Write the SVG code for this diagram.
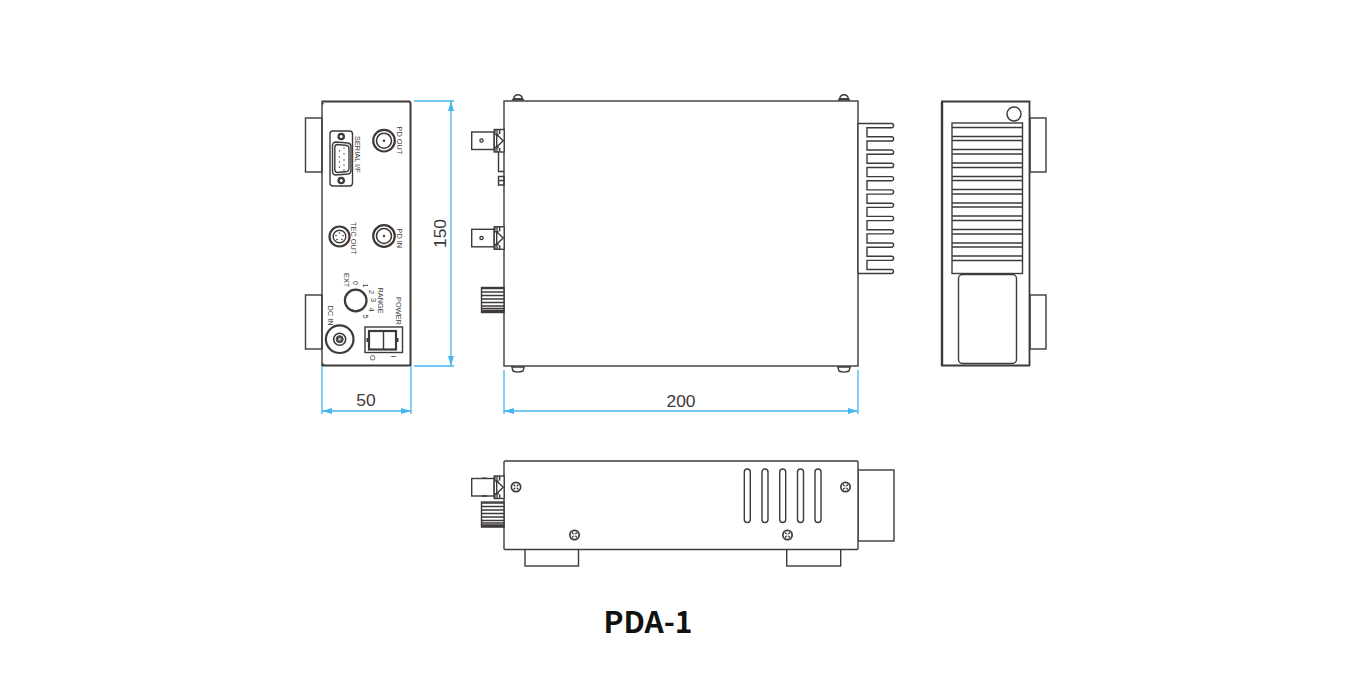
<svg xmlns="http://www.w3.org/2000/svg" width="1354" height="676" viewBox="0 0 1354 676">
<style>
.l{fill:none;stroke:#3e3a39;stroke-width:1.4}
.w{fill:#fff;stroke:#3e3a39;stroke-width:1.4}
.t{fill:#fff;stroke:#3e3a39;stroke-width:2.2}
.d{fill:#3e3a39}
.dim{fill:none;stroke:#45b6ef;stroke-width:1.3}
.s{font-family:"Liberation Sans",Arial,sans-serif;font-size:7.4px;fill:#3e3a39}
.n{font-family:"Liberation Sans",Arial,sans-serif;font-size:17.4px;fill:#3e3a39}
.h{font-family:"Noto Sans CJK JP","Noto Sans",sans-serif;font-size:30px;font-weight:700;fill:#111}
</style>
<defs>
<marker id="a" viewBox="0 0 10 6" refX="10" refY="3" markerWidth="10" markerHeight="6" markerUnits="userSpaceOnUse" orient="auto-start-reverse"><path d="M0 0L10 3L0 6Z" fill="#45b6ef"/></marker>
<g id="bnc"><circle r="10.800" class="t"/><circle r="7.500" fill="none" stroke="#3e3a39" stroke-width="1.600"/><circle r="1.200" class="d"/></g>
<g id="sbnc"><rect x="0" y="0" width="22.500" height="17.500" class="w"/><rect x="22.500" y="-2.500" width="10" height="22.500" class="w"/><path d="M25 2.500L31.500 8.750L25 15Z" class="w"/><path d="M22.500 2.500H27M22.500 15.200H27M28 -2.500V2M28 16V20" class="l"/><rect x="22.500" y="-2.500" width="4" height="4" class="d" opacity=".65"/><rect x="22.500" y="15.500" width="4" height="4.500" class="d" opacity=".65"/></g>
<g id="knurl"><rect width="22.500" height="25" class="w"/><path d="M0 1H22.500M0 4.500H22.500M0 8H22.500M0 11.500H22.500M0 15H22.500M0 18.500H22.500M0 21H22.500M0 23H22.500M0 24.500H22.500" class="l"/></g>
<g id="screw"><circle r="5.500" fill="#3e3a39"/><circle r="3.800" fill="#fff"/><path d="M-2.500 -2.500L2.500 2.500M-2.500 2.500L2.500 -2.500" stroke="#3e3a39" stroke-width="1.200"/><circle r="1.500" fill="#ddd"/></g>
<g id="dome"><path d="M-4.500 -1.500C-4 -4.500 -2 -5.800 0 -5.800C2 -5.800 4 -4.500 4.500 -1.500Z" class="w"/><path d="M-6.500 0C-6.500 -1.200 -5 -2 -4 -2.200H4C5 -2 6.500 -1.200 6.500 0Z" class="d"/></g>
<path id="domeb" d="M-6.200 0H6.200L5 4Q0 6.200 -5 4Z" class="w"/>
<path id="slot" d="M0 3A3 3 0 0 1 6 3V50.500A3 3 0 0 1 0 50.500Z" class="w" stroke-width="1.500"/>
</defs>
<rect width="1354" height="676" fill="#fff"/>

<g id="front-view">
<rect x="305.500" y="118" width="16.500" height="54" class="w"/>
<rect x="305.500" y="295" width="16.500" height="54" class="w"/>
<path d="M322 366V101.500" class="l"/>
<path d="M321.500 101.500H409.500L410.500 103V366M321.500 365.500H410.500" fill="none" stroke="#3e3a39" stroke-width="2"/>
<path d="M322 103L324.500 103.500L322 105ZM322 363L324.500 364L322 366Z" class="d"/>
<rect x="330" y="131" width="22.500" height="55" rx="3" class="l"/>
<circle cx="341.200" cy="136.500" r="3.800" fill="#3e3a39"/><circle cx="341.200" cy="136.500" r="1.500" fill="#fff"/>
<circle cx="341.200" cy="180.500" r="3.800" fill="#3e3a39"/><circle cx="341.200" cy="180.500" r="1.500" fill="#fff"/>
<path d="M332.500 146Q332.500 142 336 142L348 143Q351 143.500 351 146.500V170.500Q351 173.500 348 174L336 175Q332.500 175 332.500 171Z" class="w" stroke-width="1.800"/>
<path d="M334.800 147.500Q334.800 144.500 337.500 144.500L347 145.500Q349 146 349 148V169Q349 171 347 171.500L337.500 172.500Q334.800 172.500 334.800 169.500Z" class="l" stroke-width="1"/>
<g class="d"><circle cx="344" cy="148" r=".7"/><circle cx="344" cy="154" r=".7"/><circle cx="344" cy="160" r=".7"/><circle cx="344" cy="165" r=".7"/><circle cx="344" cy="170" r=".7"/><circle cx="339.500" cy="151" r=".7"/><circle cx="339.500" cy="157" r=".7"/><circle cx="339.500" cy="162" r=".7"/><circle cx="339.500" cy="167" r=".7"/></g>
<use href="#bnc" x="384" y="140.700"/>
<use href="#bnc" x="384" y="236"/>
<circle cx="339.500" cy="236.500" r="10" class="t"/>
<circle cx="339.500" cy="236.500" r="6.300" class="l" stroke-width="1"/>
<g class="d"><circle cx="339.500" cy="233" r=".8"/><circle cx="343" cy="235.500" r=".8"/><circle cx="342" cy="239.500" r=".8"/><circle cx="337" cy="239.500" r=".8"/><circle cx="336" cy="235.500" r=".8"/></g>
<circle cx="355.700" cy="300.500" r="10.800" fill="#fff" stroke="#3e3a39" stroke-width="2.200"/>
<circle cx="339.700" cy="339.200" r="13.800" class="t"/>
<circle cx="339.700" cy="339.200" r="6" fill="#fff" stroke="#3e3a39" stroke-width="1.600"/>
<circle cx="339.700" cy="339.200" r="3.500" fill="#555" stroke="#3e3a39"/>
<circle cx="339.700" cy="339.200" r="1.200" fill="#ccc"/>
<rect x="365" y="327" width="37.500" height="25.500" class="w" stroke-width="1.500"/>
<rect x="369" y="331" width="27" height="18.500" class="t"/>
<path d="M383.500 331V349.500" class="l"/>
<rect x="366.500" y="338" width="2.500" height="4" class="d"/><rect x="396" y="338" width="2.500" height="4" class="d"/>
<text class="s" transform="translate(397 126.500) rotate(90)">PD OUT</text>
<text class="s" transform="translate(397 228.500) rotate(90)">PD IN</text>
<text class="s" transform="translate(355 136) rotate(90)">SERIAL I/F</text>
<text class="s" transform="translate(351 222) rotate(90)">TEC OUT</text>
<text class="s" transform="translate(344 273) rotate(90)">EXT</text>
<text class="s" transform="translate(353 281) rotate(90)">0</text>
<text class="s" transform="translate(362.500 283.500) rotate(90)">1</text>
<text class="s" transform="translate(368.500 290) rotate(90)">2</text>
<text class="s" transform="translate(371 298) rotate(90)">3</text>
<text class="s" transform="translate(369 307.500) rotate(90)">4</text>
<text class="s" transform="translate(362.500 314.500) rotate(90)">5</text>
<text class="s" transform="translate(378 287.500) rotate(90)">RANGE</text>
<text class="s" transform="translate(396 297) rotate(90)">POWER</text>
<text class="s" transform="translate(327.500 305.500) rotate(90)">DC IN</text>
<text class="s" transform="translate(370 355) rotate(90)">O</text>
<text class="s" transform="translate(391 355.500) rotate(90)">I</text>
</g>

<g id="top-view">
<rect x="504" y="101" width="354" height="265" class="w"/>
<use href="#dome" x="518" y="100.500"/>
<use href="#dome" x="844" y="100.500"/>
<use href="#domeb" x="518" y="367"/>
<use href="#domeb" x="844" y="367"/>
<g id="top-left-parts">
<use href="#sbnc" x="471.700" y="132"/>
<circle cx="481.500" cy="140.500" r="1.600" class="l"/>
<use href="#sbnc" x="471.700" y="229.300"/>
<circle cx="481.500" cy="238" r="1.600" class="l"/>
<path d="M498.500 152V171.500H504M498.500 176.500H504V185H498.500ZM498.500 180.500H504" class="l"/>
<use href="#knurl" x="481.500" y="287.500"/>
</g>
<path d="M858 123.500H891.500A2 2 0 0 1 891.500 127.700H867V136.800H891.500A2 2 0 0 1 891.500 141H867V150H891.500A2 2 0 0 1 891.500 154.300H867V163.300H891.500A2 2 0 0 1 891.500 167.500H867V176.600H891.500A2 2 0 0 1 891.500 180.800H867V189.900H891.500A2 2 0 0 1 891.500 194.100H867V203.200H891.500A2 2 0 0 1 891.500 207.400H867V216.400H891.500A2 2 0 0 1 891.500 220.600H867V229.700H891.500A2 2 0 0 1 891.500 233.900H867V243H891.500A2 2 0 0 1 891.500 247.200H867V256.200H891.500A2 2 0 0 1 891.500 260.400H867V269.500H891.500A2 2 0 0 1 891.500 273.500H858" class="w"/>
<path d="M858 123.500V273.500" class="l"/>
</g>

<g id="rear-view">
<rect x="1030" y="118" width="16" height="54" class="w"/>
<rect x="1030" y="295" width="16" height="54" class="w"/>
<path d="M942 366V102" fill="none" stroke="#3e3a39" stroke-width="2.400"/>
<path d="M941 101.500H1029.500V366M941 365.500H1030" fill="none" stroke="#3e3a39" stroke-width="1.800"/>
<circle cx="1014" cy="114" r="7" fill="#fff" stroke="#3e3a39" stroke-width="1.500"/>
<rect x="952" y="123" width="70.500" height="150.500" class="w"/>
<path d="M952 127.500H1022.500M952 136.500H1022.500M952 140.500H1022.500M952 149.500H1022.500M952 154H1022.500M952 163H1022.500M952 167.500H1022.500M952 176.500H1022.500M952 180.500H1022.500M952 189.500H1022.500M952 194H1022.500M952 203H1022.500M952 207H1022.500M952 216H1022.500M952 220.500H1022.500M952 229.500H1022.500M952 234H1022.500M952 243H1022.500M952 247H1022.500M952 256H1022.500M952 260.500H1022.500" class="l"/>
<rect x="958.500" y="274.500" width="58" height="89" rx="4" class="w"/>
</g>

<g id="side-view">
<rect x="858" y="470" width="36" height="71" class="w"/>
<rect x="525" y="549" width="53.500" height="17" class="w"/>
<rect x="786.700" y="549" width="54" height="17" class="w"/>
<rect x="504" y="461" width="354" height="88.500" rx="1" class="w"/>
<use href="#slot" x="744.300" y="469"/>
<use href="#slot" x="762" y="469"/>
<use href="#slot" x="779.700" y="469"/>
<use href="#slot" x="797.500" y="469"/>
<use href="#slot" x="815" y="469"/>
<use href="#screw" x="516" y="487"/>
<use href="#screw" x="574.500" y="535"/>
<use href="#screw" x="845.500" y="487"/>
<use href="#screw" x="787.500" y="535"/>
<use href="#sbnc" x="471.700" y="478.500"/>
<path d="M482 478.200H487M482 496H487" class="l" stroke-width="1.800"/>
<use href="#knurl" x="481.500" y="502"/>
</g>

<g id="connectors">
<path d="M414 101H454M414 366H454" class="dim"/>
<path d="M451 101V366" class="dim" marker-start="url(#a)" marker-end="url(#a)"/>
<path d="M322 366V414M411 366V414" class="dim"/>
<path d="M322 411H411" class="dim" marker-start="url(#a)" marker-end="url(#a)"/>
<path d="M504 370V414M858 370V414" class="dim"/>
<path d="M504 411H858" class="dim" marker-start="url(#a)" marker-end="url(#a)"/>
</g>

<g id="labels">
<text class="n" text-anchor="middle" transform="translate(445.500 233.500) rotate(-90)">150</text>
<text class="n" text-anchor="middle" x="366" y="406">50</text>
<text class="n" text-anchor="middle" x="681" y="407">200</text>
<text class="h" text-anchor="middle" x="648" y="633">PDA-1</text>
</g>
</svg>
